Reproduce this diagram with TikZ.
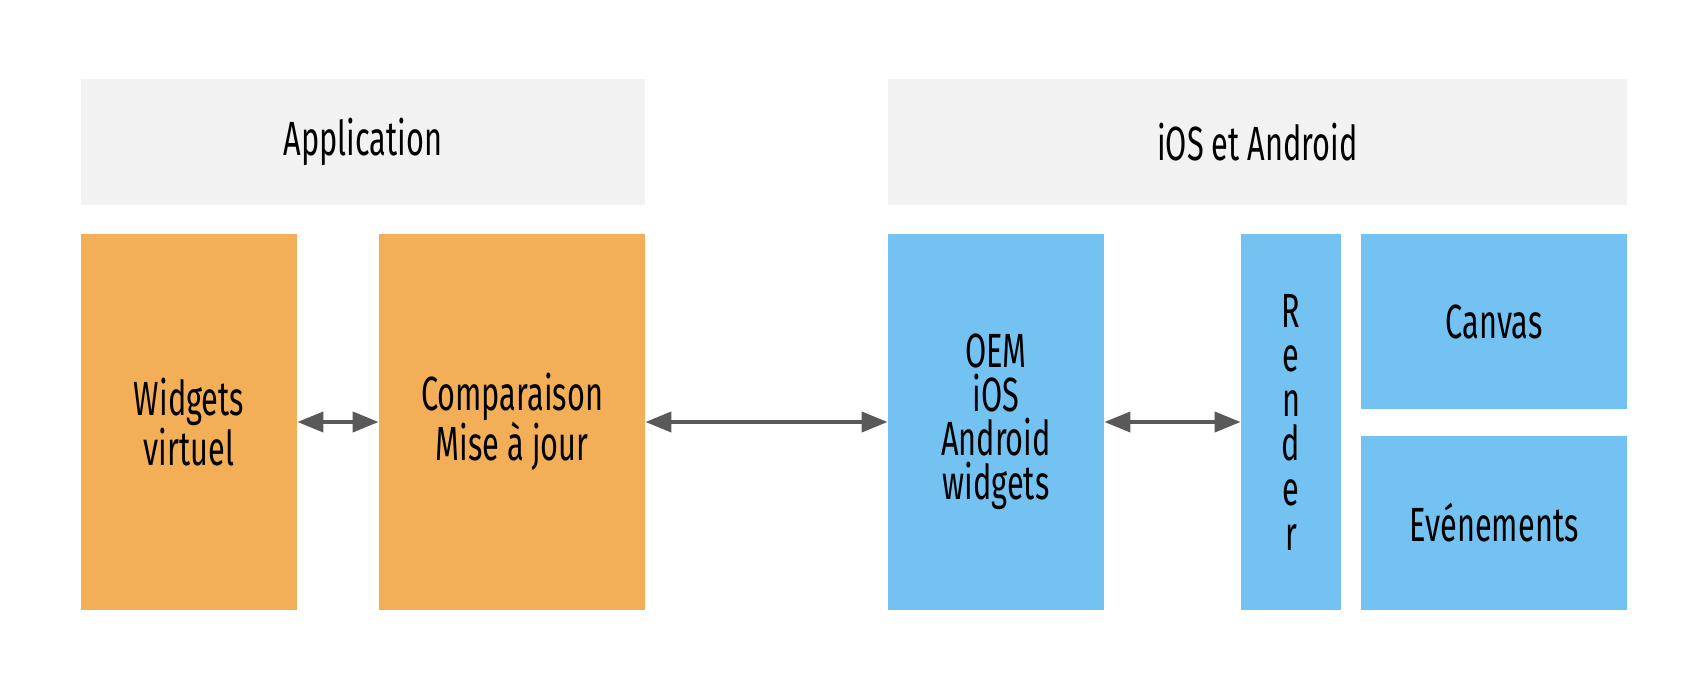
\documentclass[tikz,border=0pt]{standalone}
\usepackage{fontspec}
\setmainfont[FakeStretch=0.64]{Fira Sans}
\usepackage{xcolor}
\usepackage{tikz}
\usetikzlibrary{arrows.meta}
\definecolor{headgrey}{HTML}{F2F2F2}
\definecolor{apporange}{HTML}{F3AF57}
\definecolor{osblue}{HTML}{73C2F2}
\definecolor{linkgrey}{HTML}{595959}
\tikzset{
	head node/.style={fill=headgrey,minimum height=63pt,inner sep=0pt,font=\fontsize{24pt}{22pt}\selectfont},
	app node/.style={fill=apporange,minimum width=108pt,minimum height=188pt,inner sep=0pt,align=center,font=\fontsize{24pt}{22pt}\selectfont},
	os node/.style={fill=osblue,minimum width=108pt,minimum height=188pt,inner sep=0pt,align=center,font=\fontsize{24pt}{22pt}\selectfont},
	link/.style={{Triangle[length=13pt,width=10pt]}-{Triangle[length=13pt,width=10pt]},draw=linkgrey,line width=2pt}
}

\begin{document}
\begin{tikzpicture}[x=0.5pt,y=-0.5pt]
	\useasboundingbox (0,0) rectangle (1702,690);
	% headers
	\node [head node,minimum width=282pt] (app) at (363,142) {Application};
	\node [head node,minimum width=369.5pt] (os) at (1257.5,142) {iOS et Android};
	% application side
	\node [app node] (widg) at (189,422) {Widgets\\virtuel};
	\node [app node,minimum width=133pt] (comp) at (512,422) {Comparaison\\Mise à jour};
	% native side
	\node [os node] (oem) at (996,422) {OEM\\iOS\\Android\\widgets};
	\node [os node,minimum width=50pt,font=\fontsize{24pt}{22.3pt}\selectfont] (render) at (1291,422) {R\\e\\n\\d\\e\\r};
	\node [os node,minimum width=133pt,minimum height=87.5pt] (canvas) at (1494,321.5) {Canvas};
	\node [os node,minimum width=133pt,minimum height=87pt] (events) at (1494,523) {Evénements};
	% links
	\draw [link] (widg.east) -- (comp.west);
	\draw [link] (comp.east) -- (oem.west);
	\draw [link] (oem.east) -- (render.west);
\end{tikzpicture}
\end{document}
